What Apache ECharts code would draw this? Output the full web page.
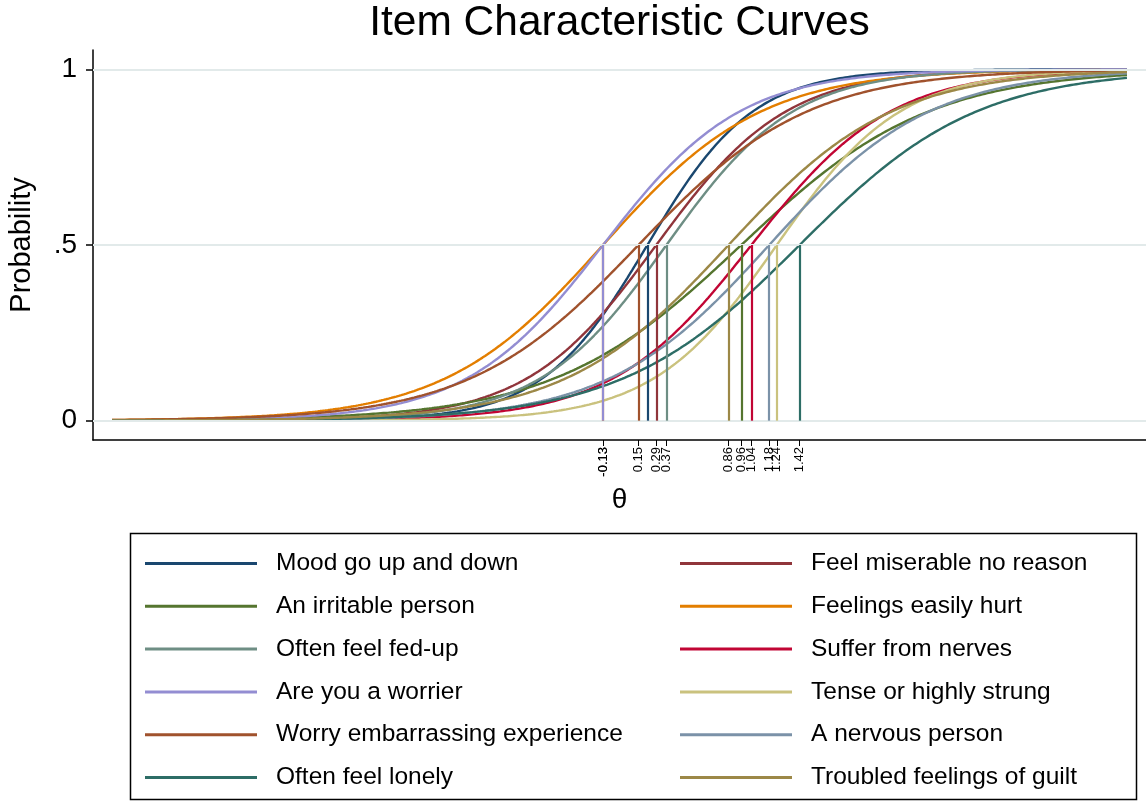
<!DOCTYPE html>
<html>
<head>
<meta charset="utf-8">
<script src="https://cdn.jsdelivr.net/npm/echarts@6/dist/echarts.min.js"></script>
<style>
  html, body { margin: 0; padding: 0; background: #fff; }
  #chart { width: 1146px; height: 802px; }
</style>
</head>
<body>
<div id="chart"></div>
<script>
// Items of the neuroticism scale, in plotting order (legend fills row by row, two columns)
const items = [
  'Mood go up and down', 'Feel miserable no reason',
  'An irritable person', 'Feelings easily hurt',
  'Often feel fed-up', 'Suffer from nerves',
  'Are you a worrier', 'Tense or highly strung',
  'Worry embarrassing experience', 'A nervous person',
  'Often feel lonely', 'Troubled feelings of guilt'
];
// 2PL difficulty (theta where P = .5) for each item
const difficulty = [0.22, 0.29, 0.96, -0.13, 0.37, 1.04, -0.13, 1.24, 0.15, 1.18, 1.42, 0.86];
// 2PL discrimination (slope) for each item
const discrimination = [2.40, 1.95, 1.35, 1.60, 2.00, 1.82, 1.85, 2.05, 1.50, 1.58, 1.43, 1.55];
const colors = ['#1a476f', '#90353b', '#55752f', '#e37e00', '#6e8e84', '#c10534',
                '#938dd2', '#cac27e', '#a0522d', '#7b92a8', '#2d6d66', '#9c8847'];
const yTicks = [0, 0.5, 1];
const yTickLabels = ['0', '.5', '1'];
const thetaMin = -4, thetaMax = 4, thetaStep = 0.02;

const FONT = 'Liberation Sans, Arial, Helvetica, sans-serif';

// probability of endorsing an item under the two-parameter logistic model
function icc(theta, a, b) {
  return 1 / (1 + Math.exp(-a * (theta - b)));
}

const thetas = [];
for (let k = 0; k <= Math.round((thetaMax - thetaMin) / thetaStep); k++) {
  thetas.push(+(thetaMin + k * thetaStep).toFixed(4));
}

const curveSeries = items.map((name, i) => ({
  name: name,
  type: 'line',
  symbol: 'none',
  showSymbol: false,
  silent: true,
  z: 3,
  lineStyle: { color: colors[i], width: 2.4 },
  itemStyle: { color: colors[i] },
  data: thetas.map(t => [t, icc(t, discrimination[i], difficulty[i])]),
  // drop line from the curve's midpoint down to P = 0
  markLine: {
    silent: true,
    symbol: 'none',
    animation: false,
    label: { show: false },
    lineStyle: { color: colors[i], width: 2.2, type: 'solid' },
    data: [[{ coord: [difficulty[i], 0] }, { coord: [difficulty[i], 0.5] }]]
  }
}));

// horizontal reference lines at the labelled probabilities
const gridSeries = {
  name: '__grid',
  type: 'line',
  data: [],
  silent: true,
  z: 1,
  markLine: {
    silent: true,
    symbol: 'none',
    animation: false,
    label: { show: false },
    lineStyle: { color: '#e2eaea', width: 2, type: 'solid' },
    data: yTicks.map(v => ({ yAxis: v }))
  }
};

const leftColumn = items.filter((_, i) => i % 2 === 0);
const rightColumn = items.filter((_, i) => i % 2 === 1);

const legendBase = {
  orient: 'vertical',
  top: 546,
  itemWidth: 112,
  itemHeight: 24,
  itemGap: 17.8,
  selectedMode: false,
  icon: 'path://M0,0 L112,0 L112,3 L0,3 Z',
  textStyle: { fontSize: 24.5, color: '#000', fontFamily: FONT, padding: [0, 0, 0, 14] }
};

const chart = echarts.init(document.getElementById('chart'), null, { renderer: 'canvas' });
chart.setOption({
  animation: false,
  backgroundColor: '#fff',
  textStyle: { fontFamily: FONT },
  grid: { left: 93, right: 0, top: 50, bottom: 362, outerBoundsMode: 'none' },
  xAxis: {
    type: 'value',
    min: -4.15,
    max: 4.15,
    name: 'θ',
    nameLocation: 'middle',
    nameGap: 46,
    nameTextStyle: { fontSize: 28, color: '#000', fontFamily: FONT },
    axisLine: { show: true, onZero: false, lineStyle: { color: '#000', width: 1.5 } },
    axisTick: { show: true, customValues: difficulty, length: 6, lineStyle: { color: '#000', width: 1 } },
    axisLabel: {
      customValues: difficulty,
      rotate: 90,
      fontSize: 13,
      color: '#000',
      margin: 7,
      formatter: v => v.toFixed(2)
    },
    splitLine: { show: false }
  },
  yAxis: {
    type: 'value',
    min: -0.055,
    max: 1.055,
    name: 'Probability',
    nameLocation: 'middle',
    nameGap: 57,
    nameTextStyle: { fontSize: 29, color: '#000', fontFamily: FONT },
    axisLine: { show: true, onZero: false, lineStyle: { color: '#000', width: 1.5 } },
    axisTick: { show: true, customValues: yTicks, length: 7, lineStyle: { color: '#000', width: 1.5 } },
    axisLabel: {
      customValues: yTicks,
      fontSize: 28,
      color: '#000',
      margin: 16,
      formatter: v => { const k = yTicks.indexOf(v); return k >= 0 ? yTickLabels[k] : String(v); }
    },
    splitLine: { show: false }
  },
  legend: [
    Object.assign({}, legendBase, { left: 140, data: leftColumn }),
    Object.assign({}, legendBase, { left: 675, data: rightColumn })
  ],
  graphic: [
    {
      type: 'text',
      x: 619.5,
      y: 23,
      style: {
        text: 'Item Characteristic Curves',
        fill: '#000',
        font: '42.5px ' + FONT,
        textAlign: 'center',
        textVerticalAlign: 'middle'
      }
    },
    {
      type: 'rect',
      shape: { x: 130.5, y: 533.5, width: 1006, height: 266 },
      style: { fill: 'none', stroke: '#000', lineWidth: 1.5 }
    }
  ],
  series: [gridSeries].concat(curveSeries)
});
</script>
</body>
</html>
